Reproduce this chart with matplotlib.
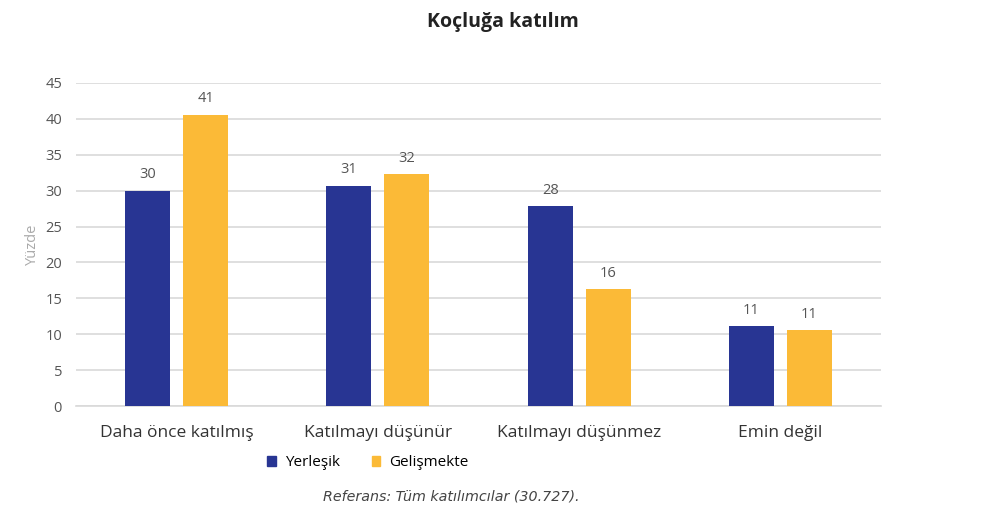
import matplotlib
matplotlib.use("Agg")
import matplotlib.pyplot as plt
import numpy as np
from matplotlib.patches import Patch

categories = ["Daha önce katılmış", "Katılmayı düşünür", "Katılmayı düşünmez", "Emin değil"]
yerlesik = [30.0, 30.7, 27.8, 11.1]
gelismekte = [40.6, 32.3, 16.3, 10.6]
series_names = ["Yerleşik", "Gelişmekte"]
yticks = [0, 5, 10, 15, 20, 25, 30, 35, 40, 45]

c_navy = "#283593"
c_yellow = "#FBBA37"

fig = plt.figure(figsize=(9.96, 5.23), dpi=100)
ax = fig.add_axes([76/996, 1-406/523, (881-76)/996, (406-83)/523])

x = np.arange(len(categories))
w = 0.224
off = 0.144
b1 = ax.bar(x - off, yerlesik, w, color=c_navy, zorder=3)
b2 = ax.bar(x + off, gelismekte, w, color=c_yellow, zorder=3)

for bars, vals in ((b1, yerlesik), (b2, gelismekte)):
    for r, v in zip(bars, vals):
        ax.text(r.get_x() + r.get_width()/2, v + 2.2, f"{v:.0f}", ha="center", va="center",
                fontsize=10.5, color="#555555", family="Open Sans")

ax.set_xlim(-0.5, 3.5)
ax.set_ylim(0, 45)
ax.set_yticks(yticks)
ax.set_yticklabels([str(t) for t in yticks], fontsize=10.5, color="#555555", family="Open Sans")
ax.yaxis.grid(True, color="#d9d9d9", linewidth=1.2, zorder=0)
ax.set_axisbelow(True)
ax.tick_params(axis="y", length=0, pad=10)
ax.tick_params(axis="x", length=0, pad=14)
ax.set_xticks(x)
ax.set_xticklabels(categories, fontsize=12.5, color="#333333", family="Open Sans")
for s in ["top", "right", "left"]:
    ax.spines[s].set_visible(False)
ax.spines["bottom"].set_color("#d9d9d9")
ax.spines["bottom"].set_linewidth(1.2)
ax.set_ylabel("Yüzde", fontsize=10.5, color="#aaaaaa", family="Open Sans", labelpad=4)

fig.text(503/996, 1-22/523, "Koçluğa katılım", ha="center", va="center", fontsize=14,
         fontweight="bold", color="#222222", family="Open Sans")

handles = [Patch(color=c_navy), Patch(color=c_yellow)]
fig.legend(handles, series_names, loc="center", bbox_to_anchor=(368/996, 1-463/523), ncol=2,
           frameon=False, handlelength=0.55, handleheight=0.55, columnspacing=2.1, handletextpad=0.6,
           prop={"family": "Open Sans", "size": 11})

fig.text(451/996, 1-496/523, "Referans: Tüm katılımcılar (30.727).", ha="center", va="center",
         fontsize=10.3, style="italic", color="#444444", family="DejaVu Sans")

fig.savefig("out.png", dpi=100, facecolor="white")
